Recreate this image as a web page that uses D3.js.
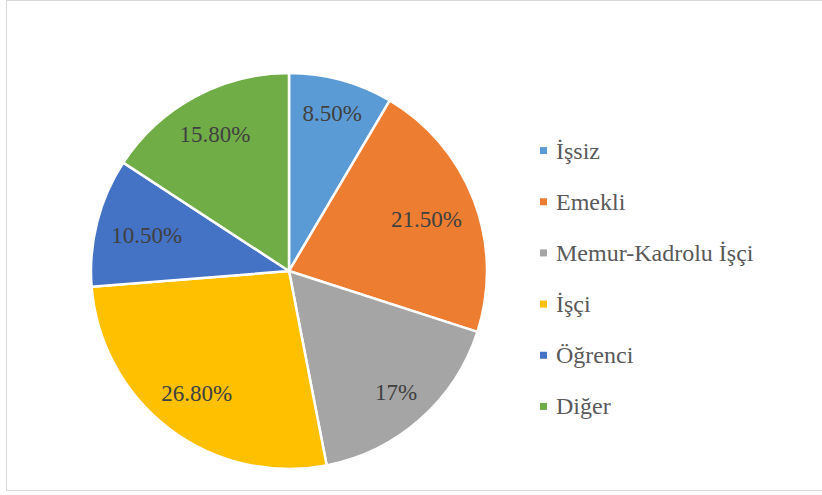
<!DOCTYPE html>
<html>
<head>
<meta charset="utf-8">
<script src="https://cdn.jsdelivr.net/npm/d3@7"></script>
<style>
  body { margin: 0; background: #fff; }
</style>
</head>
<body>
<svg id="chart" width="822" height="495"></svg>
<script>
// data
var categories = ['İşsiz', 'Emekli', 'Memur-Kadrolu İşçi', 'İşçi', 'Öğrenci', 'Diğer'];
var values = [8.5, 21.5, 17, 26.8, 10.5, 15.8];
var valueLabels = ['8.50%', '21.50%', '17%', '26.80%', '10.50%', '15.80%'];
var colors = ['#5B9BD5', '#ED7D31', '#A5A5A5', '#FFC000', '#4472C4', '#70AD47'];

var fontFamily = '"Liberation Serif"';
var svg = d3.select('#chart');

//chart border
svg.append('rect')
  .attr('x', 6.5).attr('y', 0.5)
  .attr('width', 830).attr('height', 490)
  .attr('fill', '#fff')
  .attr('stroke', '#d9d9d9');

var cx = 289, cy = 271, radius = 198;

var pie = d3.pie().sort(null).value(function(d) { return d; });
var arcs = pie(values);

var arc = d3.arc().innerRadius(0).outerRadius(radius);

var g = svg.append('g').attr('transform', 'translate(' + cx + ',' + cy + ')');

g.selectAll('path.slice')
  .data(arcs)
  .enter().append('path')
  .attr('class', 'slice')
  .attr('d', arc)
  .attr('fill', function(d, i) { return colors[i]; })
  .attr('stroke', '#fff')
  .attr('stroke-width', 2.5)
  .attr('stroke-linejoin', 'round');

//data labels, pushed out along the mid angle until the far corner of the box sits just inside the edge
var labels = g.selectAll('text.label')
  .data(arcs)
  .enter().append('text')
  .attr('class', 'label')
  .attr('text-anchor', 'middle')
  .attr('dy', '0.35em')
  .style('font-family', fontFamily)
  .style('font-size', '23px')
  .attr('fill', '#404040')
  .text(function(d, i) { return valueLabels[i]; });

var edgeDist = radius - 14;
labels.attr('transform', function(d) {
  var a = (d.startAngle + d.endAngle) / 2;
  var ux = Math.sin(a), uy = -Math.cos(a);
  var hw = this.getComputedTextLength() / 2, hh = 11;
  var sx = ux >= 0 ? hw : -hw, sy = uy >= 0 ? hh : -hh;
  var b = ux * sx + uy * sy;
  var dist = -b + Math.sqrt(b * b - (sx * sx + sy * sy) + edgeDist * edgeDist);
  return 'translate(' + (ux * dist) + ',' + (uy * dist) + ')';
});

//legend
var legendY = d3.scaleBand().domain(categories).range([125, 432]);
var legend = svg.append('g').attr('class', 'legend');
var item = legend.selectAll('g.item')
  .data(categories)
  .enter().append('g')
  .attr('class', 'item')
  .attr('transform', function(d) { return 'translate(540,' + (legendY(d) + legendY.bandwidth() / 2) + ')'; });

item.append('rect')
  .attr('x', 0).attr('y', -3.5)
  .attr('width', 7).attr('height', 7)
  .attr('fill', function(d, i) { return colors[i]; });

item.append('text')
  .attr('x', 16)
  .attr('dy', '0.33em')
  .style('font-family', fontFamily)
  .style('font-size', '24px')
  .attr('fill', '#595959')
  .text(function(d) { return d; });
</script>
</body>
</html>
